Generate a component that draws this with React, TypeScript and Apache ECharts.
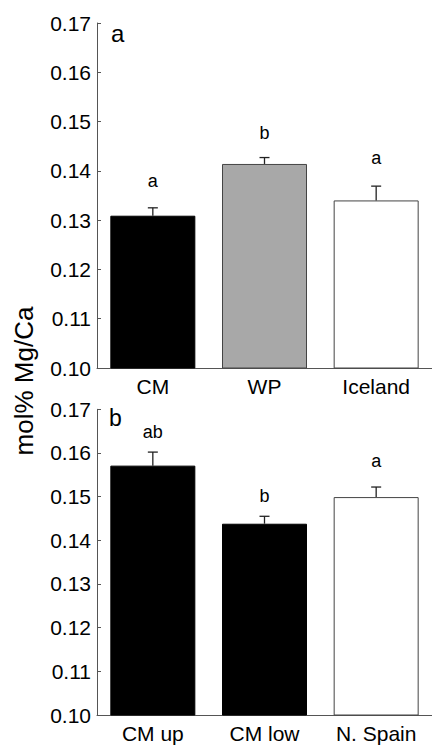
import React, { useEffect, useRef } from "react";
import * as echarts from "echarts";

const topCategories = ["CM", "WP", "Iceland"];
const topValues = [0.1309, 0.1414, 0.134];
const topErrTops = [0.1325, 0.1427, 0.1369];
const topLetters = ["a", "b", "a"];
const topLetterY = [0.1379, 0.1477, 0.1427];
const topColors = ["#000000", "#a8a8a8", "#ffffff"];

const bottomCategories = ["CM up", "CM low", "N. Spain"];
const bottomValues = [0.1571, 0.1438, 0.1499];
const bottomErrTops = [0.1602, 0.1455, 0.1522];
const bottomLetters = ["ab", "b", "a"];
const bottomLetterY = [0.1647, 0.1502, 0.1581];
const bottomColors = ["#000000", "#000000", "#ffffff"];

const yMin = 0.1;
const yMax = 0.17;
const yInterval = 0.01;

const FONT = "'Liberation Sans', Arial, Helvetica, sans-serif";
const AXIS = "#555555";
const TEXT = "#000000";

function barSeries(values: number[], colors: string[], idx: number) {
  return {
    type: "bar",
    xAxisIndex: idx,
    yAxisIndex: idx,
    barWidth: 85,
    data: values.map((v, i) => ({
      value: v,
      itemStyle: {
        color: colors[i],
        borderColor: colors[i] === "#000000" ? "#000000" : "#444444",
        borderWidth: 1,
      },
    })),
    z: 2,
  };
}

function errSeries(values: number[], tops: number[], letters: string[], letterY: number[], idx: number) {
  return {
    type: "custom",
    xAxisIndex: idx,
    yAxisIndex: idx,
    z: 3,
    data: values.map((v, i) => [i, tops[i], v, letterY[i]]),
    renderItem: (params: any, api: any) => {
      const x = api.value(0);
      const top = api.value(1);
      const base = api.value(2);
      const ly = api.value(3);
      const p1 = api.coord([x, base]);
      const p2 = api.coord([x, top]);
      const p3 = api.coord([x, ly]);
      const style = { stroke: "#222222", lineWidth: 1.3 };
      return {
        type: "group",
        children: [
          { type: "line", shape: { x1: p1[0], y1: p1[1], x2: p2[0], y2: p2[1] }, style },
          { type: "line", shape: { x1: p2[0] - 5, y1: p2[1], x2: p2[0] + 5, y2: p2[1] }, style },
          {
            type: "text",
            x: p3[0],
            y: p3[1],
            style: {
              text: letters[params.dataIndex],
              fontFamily: FONT,
              fontSize: 18,
              fill: TEXT,
              align: "center",
              verticalAlign: "middle",
            },
          },
        ],
      };
    },
  };
}

function xAxis(cats: string[], idx: number) {
  return {
    type: "category",
    gridIndex: idx,
    data: cats,
    axisLine: { show: true, lineStyle: { color: AXIS, width: 1 } },
    axisTick: { show: true, inside: true, alignWithLabel: true, length: 4, lineStyle: { color: AXIS } },
    axisLabel: { fontFamily: FONT, fontSize: 21, color: TEXT, margin: 8 },
    splitLine: { show: false },
  };
}

function yAxis(idx: number) {
  return {
    type: "value",
    gridIndex: idx,
    min: yMin,
    max: yMax,
    interval: yInterval,
    axisLine: { show: true, lineStyle: { color: AXIS, width: 1 } },
    axisTick: { show: true, inside: true, length: 4, lineStyle: { color: AXIS } },
    axisLabel: {
      fontFamily: FONT,
      fontSize: 21,
      color: TEXT,
      margin: 6,
      formatter: (v: number) => v.toFixed(2),
    },
    splitLine: { show: false },
  };
}

export default function App() {
  const ref = useRef<HTMLDivElement>(null);
  useEffect(() => {
    if (!ref.current) return;
    const chart = echarts.init(ref.current, null, { renderer: "svg" });
    chart.setOption({
      animation: false,
      backgroundColor: "#ffffff",
      grid: [
        { left: 97, top: 23, width: 346.5, height: 345 },
        { left: 97, top: 409.3, width: 346.5, height: 305.7 },
      ],
      xAxis: [xAxis(topCategories, 0), xAxis(bottomCategories, 1)],
      yAxis: [yAxis(0), yAxis(1)],
      series: [
        barSeries(topValues, topColors, 0),
        errSeries(topValues, topErrTops, topLetters, topLetterY, 0),
        barSeries(bottomValues, bottomColors, 1),
        errSeries(bottomValues, bottomErrTops, bottomLetters, bottomLetterY, 1),
      ],
      graphic: [
        {
          type: "text",
          x: 24,
          y: 381,
          rotation: Math.PI / 2,
          style: {
            text: "mol% Mg/Ca",
            fontFamily: FONT,
            fontSize: 26,
            fill: TEXT,
            align: "center",
            verticalAlign: "middle",
          },
        },
        {
          type: "text",
          x: 111,
          y: 33,
          style: { text: "a", fontFamily: FONT, fontSize: 24, fill: TEXT, align: "left", verticalAlign: "middle" },
        },
        {
          type: "text",
          x: 109,
          y: 418,
          style: { text: "b", fontFamily: FONT, fontSize: 23, fill: TEXT, align: "left", verticalAlign: "middle" },
        },
      ],
    });
    return () => chart.dispose();
  }, []);
  return (
    <div
      ref={ref}
      style={{ position: "absolute", left: 0, top: 0, width: 432, height: 746, background: "#fff" }}
    />
  );
}
